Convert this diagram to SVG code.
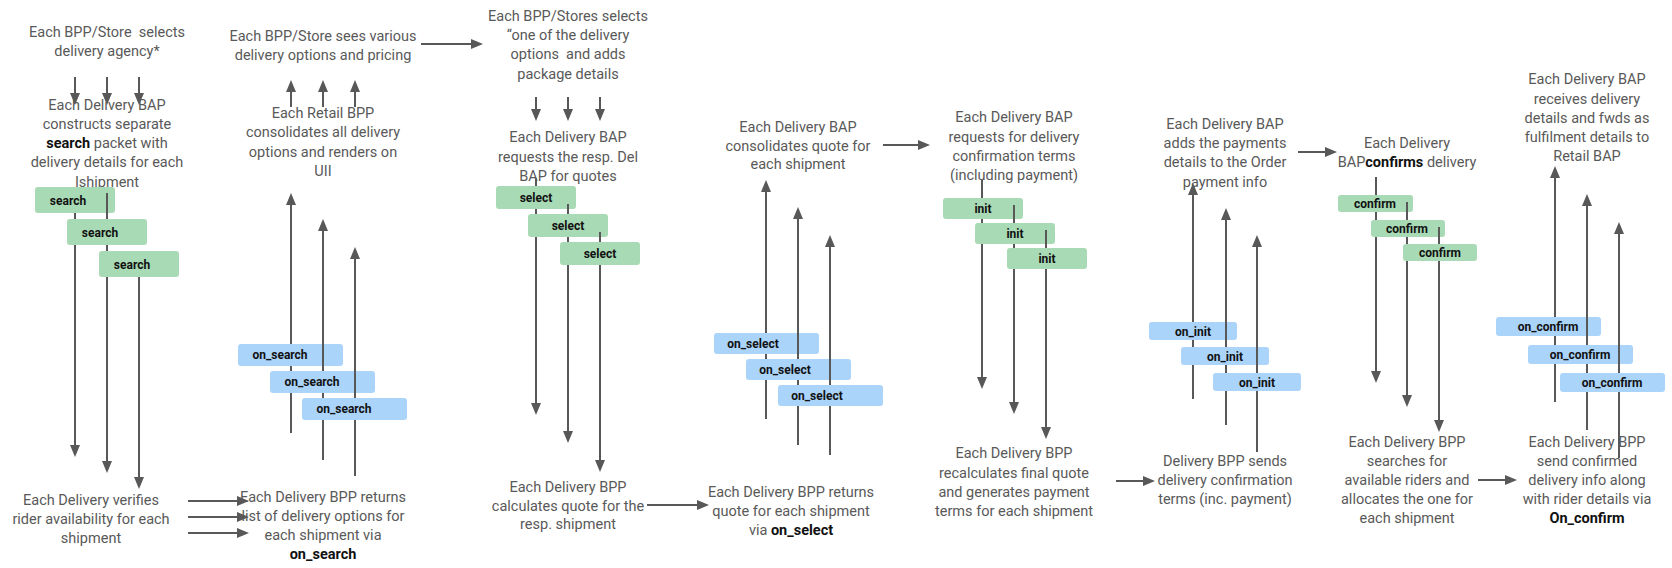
<svg xmlns="http://www.w3.org/2000/svg" width="1672" height="568" viewBox="0 0 1672 568">
<style>
.t{font-family:Roboto,"Liberation Sans",sans-serif;font-size:14.5px;fill:#595959;text-anchor:middle}
.b{font-weight:bold;fill:#111}
.l{font-family:Roboto,"Liberation Sans",sans-serif;font-size:12px;font-weight:bold;fill:#111;text-anchor:middle}
.g{fill:#a8dab5}
.u{fill:#abd4fa}
#connectors path{stroke:#585858;stroke-width:2;fill:none}
#connectors path.a{marker-end:url(#ah)}
</style>
<defs>
<marker id="ah" viewBox="0 0 12 10" refX="9" refY="5" markerWidth="12" markerHeight="10" markerUnits="userSpaceOnUse" orient="auto">
<path d="M0,0 L12,5 L0,10 z" fill="#585858"/>
</marker>
</defs>
<rect width="1672" height="568" fill="#fff"/>

<g id="n-store-selects"><text class="t" xml:space="preserve"><tspan x="107" y="37">Each BPP/Store  selects</tspan><tspan x="107" y="56">delivery agency*</tspan></text></g>
<g id="n-bap-search"><text class="t"><tspan x="107" y="110">Each Delivery BAP</tspan><tspan x="107" y="129">constructs separate</tspan><tspan x="107" y="148"><tspan class="b">search</tspan> packet with</tspan><tspan x="107" y="167">delivery details for each</tspan><tspan x="107" y="187">Ishipment</tspan></text></g>
<g id="n-verify"><text class="t"><tspan x="91" y="505">Each Delivery verifies</tspan><tspan x="91" y="524">rider availability for each</tspan><tspan x="91" y="543">shipment</tspan></text></g>

<g id="n-store-sees"><text class="t"><tspan x="323" y="41">Each BPP/Store sees various</tspan><tspan x="323" y="60">delivery options and pricing</tspan></text></g>
<g id="n-retail-consolidates"><text class="t"><tspan x="323" y="118">Each Retail BPP</tspan><tspan x="323" y="137">consolidates all delivery</tspan><tspan x="323" y="157">options and renders on</tspan><tspan x="323" y="176">UII</tspan></text></g>
<g id="n-bpp-returns-list"><text class="t"><tspan x="323" y="502">Each Delivery BPP returns</tspan><tspan x="323" y="521">list of delivery options for</tspan><tspan x="323" y="540">each shipment via</tspan><tspan x="323" y="559" class="b">on_search</tspan></text></g>

<g id="n-stores-selects-option"><text class="t" xml:space="preserve"><tspan x="568" y="21">Each BPP/Stores selects</tspan><tspan x="568" y="40">“one of the delivery</tspan><tspan x="568" y="59">options  and adds</tspan><tspan x="568" y="79">package details</tspan></text></g>
<g id="n-bap-requests-quotes"><text class="t"><tspan x="568" y="142">Each Delivery BAP</tspan><tspan x="568" y="162">requests the resp. Del</tspan><tspan x="568" y="181">BAP for quotes</tspan></text></g>
<g id="n-bpp-calculates"><text class="t"><tspan x="568" y="492">Each Delivery BPP</tspan><tspan x="568" y="511">calculates quote for the</tspan><tspan x="568" y="529">resp. shipment</tspan></text></g>

<g id="n-bap-consolidates"><text class="t"><tspan x="798" y="132">Each Delivery BAP</tspan><tspan x="798" y="151">consolidates quote for</tspan><tspan x="798" y="169">each shipment</tspan></text></g>
<g id="n-bpp-returns-quote"><text class="t"><tspan x="791" y="497">Each Delivery BPP returns</tspan><tspan x="791" y="516">quote for each shipment</tspan><tspan x="791" y="535">via <tspan class="b">on_select</tspan></tspan></text></g>

<g id="n-bap-requests-terms"><text class="t"><tspan x="1014" y="122">Each Delivery BAP</tspan><tspan x="1014" y="142">requests for delivery</tspan><tspan x="1014" y="161">confirmation terms</tspan><tspan x="1014" y="180">(including payment)</tspan></text></g>
<g id="n-bpp-recalculates"><text class="t"><tspan x="1014" y="458">Each Delivery BPP</tspan><tspan x="1014" y="478">recalculates final quote</tspan><tspan x="1014" y="497">and generates payment</tspan><tspan x="1014" y="516">terms for each shipment</tspan></text></g>

<g id="n-bap-adds-payment"><text class="t"><tspan x="1225" y="129">Each Delivery BAP</tspan><tspan x="1225" y="148">adds the payments</tspan><tspan x="1225" y="167">details to the Order</tspan><tspan x="1225" y="187">payment info</tspan></text></g>
<g id="n-bpp-sends-terms"><text class="t"><tspan x="1225" y="466">Delivery BPP sends</tspan><tspan x="1225" y="485">delivery confirmation</tspan><tspan x="1225" y="504">terms (inc. payment)</tspan></text></g>

<g id="n-bap-confirms"><text class="t"><tspan x="1407" y="148">Each Delivery</tspan><tspan x="1407" y="167">BAP<tspan class="b">confirms</tspan> delivery</tspan></text></g>
<g id="n-bpp-allocates"><text class="t"><tspan x="1407" y="447">Each Delivery BPP</tspan><tspan x="1407" y="466">searches for</tspan><tspan x="1407" y="485">available riders and</tspan><tspan x="1407" y="504">allocates the one for</tspan><tspan x="1407" y="523">each shipment</tspan></text></g>

<g id="n-bap-receives"><text class="t"><tspan x="1587" y="84">Each Delivery BAP</tspan><tspan x="1587" y="104">receives delivery</tspan><tspan x="1587" y="123">details and fwds as</tspan><tspan x="1587" y="142">fulfilment details to</tspan><tspan x="1587" y="161">Retail BAP</tspan></text></g>
<g id="n-bpp-sends-confirmed"><text class="t"><tspan x="1587" y="447">Each Delivery BPP</tspan><tspan x="1587" y="466">send confirmed</tspan><tspan x="1587" y="485">delivery info along</tspan><tspan x="1587" y="504">with rider details via</tspan><tspan x="1587" y="523" class="b">On_confirm</tspan></text></g>

<g id="m-search-1"><rect class="g" x="35" y="187" width="80" height="26" rx="3"/><text class="l" x="68" y="205">search</text></g>
<g id="m-search-2"><rect class="g" x="67" y="219" width="80" height="26" rx="3"/><text class="l" x="100" y="237">search</text></g>
<g id="m-search-3"><rect class="g" x="99" y="251" width="80" height="26" rx="3"/><text class="l" x="132" y="269">search</text></g>

<g id="m-on_search-1"><rect class="u" x="238" y="344" width="105" height="22" rx="3"/><text class="l" x="280" y="359">on_search</text></g>
<g id="m-on_search-2"><rect class="u" x="270" y="371" width="105" height="22" rx="3"/><text class="l" x="312" y="386">on_search</text></g>
<g id="m-on_search-3"><rect class="u" x="302" y="398" width="105" height="22" rx="3"/><text class="l" x="344" y="413">on_search</text></g>

<g id="m-select-1"><rect class="g" x="496" y="186" width="80" height="23" rx="3"/><text class="l" x="536" y="202">select</text></g>
<g id="m-select-2"><rect class="g" x="528" y="214" width="80" height="23" rx="3"/><text class="l" x="568" y="230">select</text></g>
<g id="m-select-3"><rect class="g" x="560" y="242" width="80" height="23" rx="3"/><text class="l" x="600" y="258">select</text></g>

<g id="m-on_select-1"><rect class="u" x="714" y="333" width="105" height="21" rx="3"/><text class="l" x="753" y="348">on_select</text></g>
<g id="m-on_select-2"><rect class="u" x="746" y="359" width="105" height="21" rx="3"/><text class="l" x="785" y="374">on_select</text></g>
<g id="m-on_select-3"><rect class="u" x="778" y="385" width="105" height="21" rx="3"/><text class="l" x="817" y="400">on_select</text></g>

<g id="m-init-1"><rect class="g" x="943" y="198" width="80" height="21" rx="3"/><text class="l" x="983" y="213">init</text></g>
<g id="m-init-2"><rect class="g" x="975" y="223" width="80" height="21" rx="3"/><text class="l" x="1015" y="238">init</text></g>
<g id="m-init-3"><rect class="g" x="1007" y="248" width="80" height="21" rx="3"/><text class="l" x="1047" y="263">init</text></g>

<g id="m-on_init-1"><rect class="u" x="1149" y="322" width="88" height="18" rx="3"/><text class="l" x="1193" y="335.5">on_init</text></g>
<g id="m-on_init-2"><rect class="u" x="1181" y="347" width="88" height="18" rx="3"/><text class="l" x="1225" y="360.5">on_init</text></g>
<g id="m-on_init-3"><rect class="u" x="1213" y="373" width="88" height="18" rx="3"/><text class="l" x="1257" y="386.5">on_init</text></g>

<g id="m-confirm-1"><rect class="g" x="1338" y="195" width="75" height="17" rx="3"/><text class="l" x="1375" y="208">confirm</text></g>
<g id="m-confirm-2"><rect class="g" x="1371" y="220" width="74" height="17" rx="3"/><text class="l" x="1407" y="233">confirm</text></g>
<g id="m-confirm-3"><rect class="g" x="1403" y="244" width="74" height="17" rx="3"/><text class="l" x="1440" y="257">confirm</text></g>

<g id="m-on_confirm-1"><rect class="u" x="1496" y="317" width="105" height="19" rx="3"/><text class="l" x="1548" y="331">on_confirm</text></g>
<g id="m-on_confirm-2"><rect class="u" x="1528" y="345" width="105" height="19" rx="3"/><text class="l" x="1580" y="359">on_confirm</text></g>
<g id="m-on_confirm-3"><rect class="u" x="1560" y="373" width="105" height="19" rx="3"/><text class="l" x="1612" y="387">on_confirm</text></g>

<g id="connectors">
<path class="a" d="M75 77V102"/><path class="a" d="M107 77V102"/><path class="a" d="M139 77V102"/>
<path d="M75 213V219"/><path class="a" d="M75 245V454"/>
<path d="M107 193V219"/><path d="M107 245V251"/><path class="a" d="M107 277V470"/>
<path class="a" d="M139 277V486"/>
<path class="a" d="M188 501H246"/><path class="a" d="M188 517H246"/><path class="a" d="M188 533H246"/>

<path class="a" d="M291 107V83"/><path class="a" d="M323 107V83"/><path class="a" d="M355 107V83"/>
<path class="a" d="M291 344V196"/><path d="M291 366V371"/><path d="M291 393V433"/>
<path class="a" d="M323 371V222"/><path d="M323 393V398"/><path d="M323 420V460"/>
<path class="a" d="M355 398V250"/><path d="M355 420V476"/>
<path class="a" d="M421 44H480"/>

<path class="a" d="M536 97V118"/><path class="a" d="M568 97V118"/><path class="a" d="M600 97V118"/>
<path d="M536 178V186"/><path d="M536 209V214"/><path class="a" d="M536 237V412"/>
<path d="M568 204V214"/><path d="M568 237V242"/><path class="a" d="M568 265V440"/>
<path d="M600 232V242"/><path class="a" d="M600 265V469"/>
<path class="a" d="M647 505H706"/>

<path class="a" d="M766 333V183"/><path d="M766 354V359"/><path d="M766 380V419"/>
<path class="a" d="M798 359V210"/><path d="M798 380V385"/><path d="M798 406V445"/>
<path class="a" d="M830 385V238"/><path d="M830 406V455"/>
<path class="a" d="M883 145H927"/>

<path d="M982 180V198"/><path d="M982 219V223"/><path class="a" d="M982 244V386"/>
<path d="M1014 205V223"/><path d="M1014 244V248"/><path class="a" d="M1014 269V411"/>
<path d="M1046 230V248"/><path class="a" d="M1046 269V436"/>
<path class="a" d="M1116 481H1152"/>

<path class="a" d="M1193 322V186"/><path d="M1193 340V347"/><path d="M1193 365V399"/>
<path class="a" d="M1226 347V211"/><path d="M1226 365V373"/><path d="M1226 391V425"/>
<path class="a" d="M1257 373V238"/><path d="M1257 391V452"/>
<path class="a" d="M1298 152H1334"/>

<path d="M1376 177V195"/><path d="M1376 212V220"/><path class="a" d="M1376 237V380"/>
<path d="M1407 202V220"/><path d="M1407 237V244"/><path class="a" d="M1407 261V404"/>
<path d="M1439 227V244"/><path class="a" d="M1439 261V429"/>
<path class="a" d="M1478 480H1514"/>

<path class="a" d="M1555 317V169"/><path d="M1555 336V345"/><path d="M1555 364V402"/>
<path class="a" d="M1587 345V197"/><path d="M1587 364V373"/><path d="M1587 392V430"/>
<path class="a" d="M1619 373V225"/><path d="M1619 392V458"/>
</g>
</svg>
